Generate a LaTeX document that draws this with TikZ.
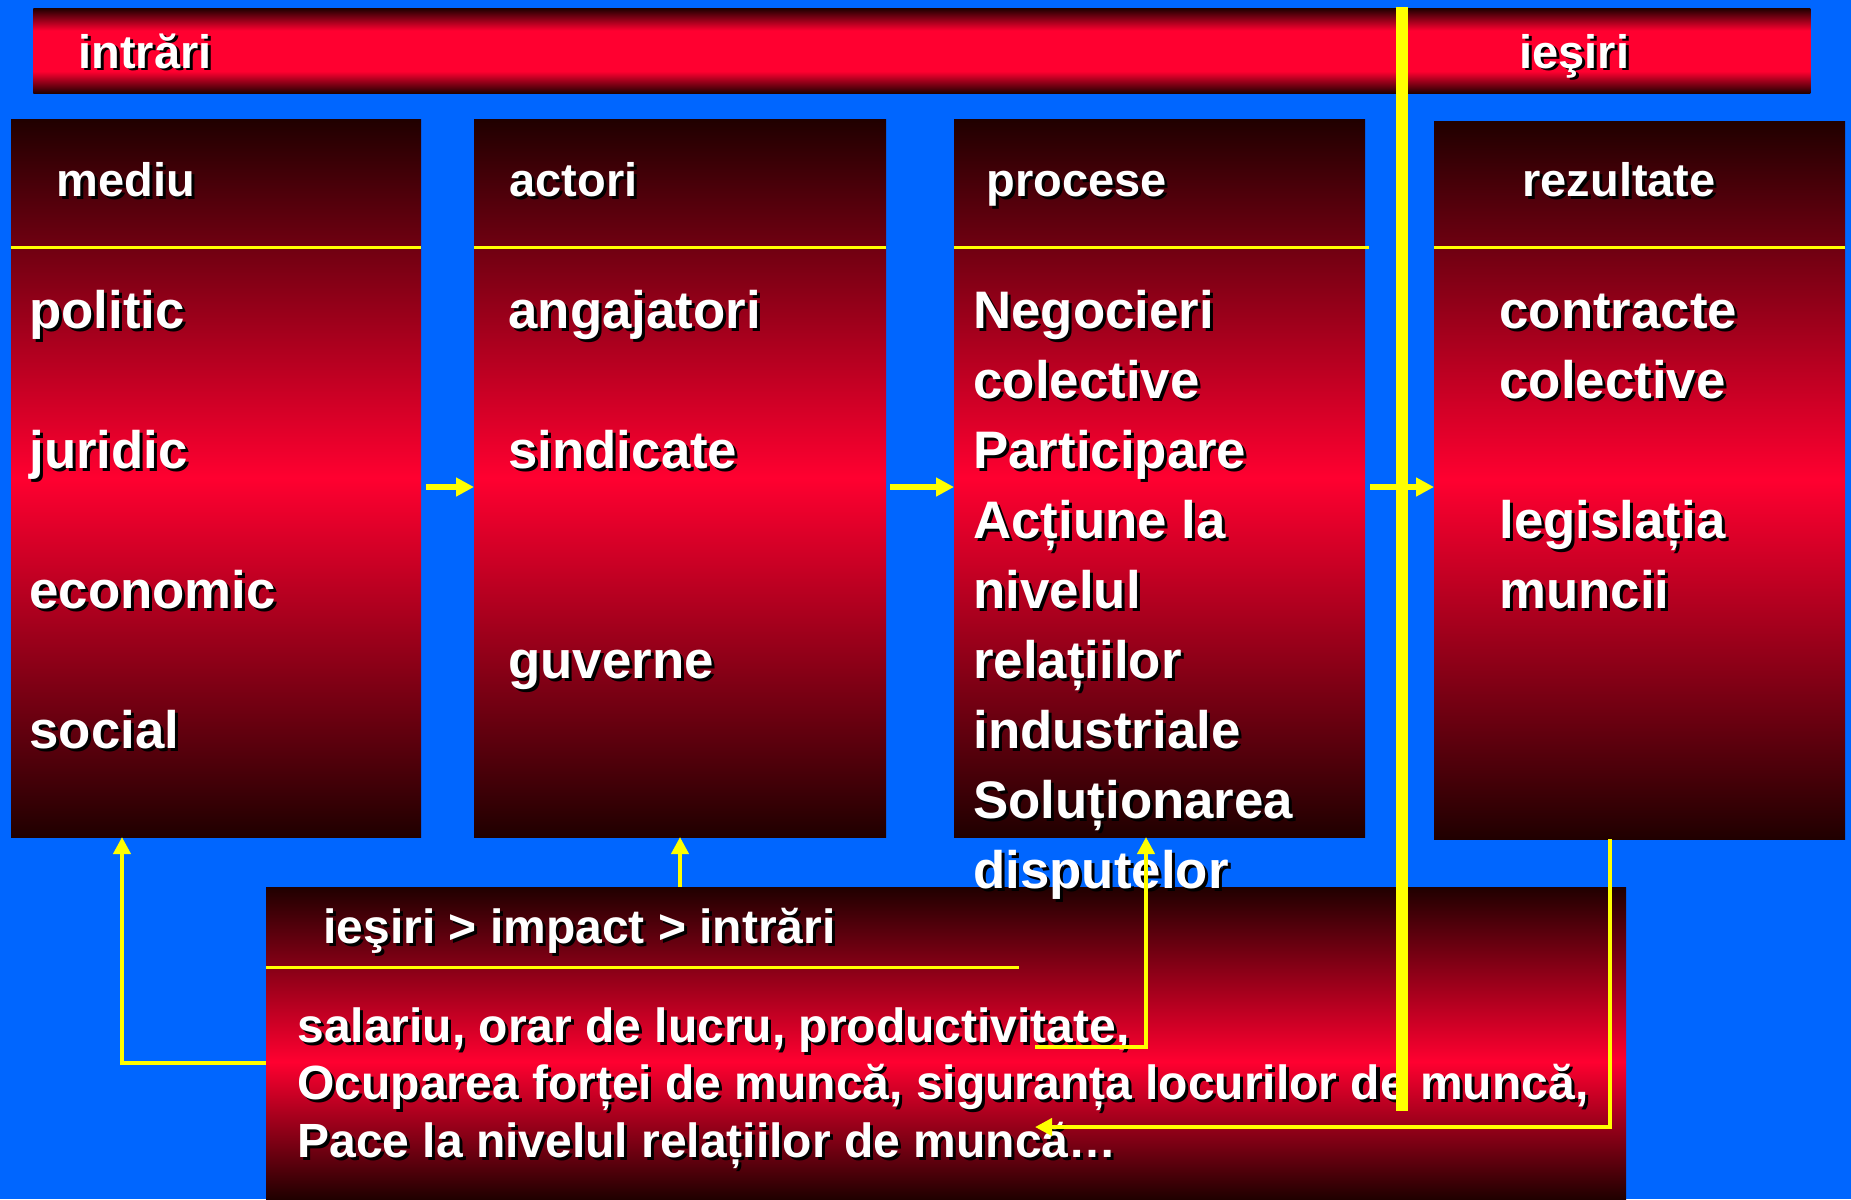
\documentclass[tikz,border=0pt]{standalone}
\usepackage{fontspec}
\setmainfont{Liberation Sans}
\usetikzlibrary{arrows.meta}

\definecolor{fundal}{HTML}{0066FF}
\definecolor{rosu}{HTML}{FF0030}
\definecolor{inchis}{HTML}{200000}
\definecolor{galben}{HTML}{FFFF00}

% Degradeuri
\pgfdeclareverticalshading{bara}{100bp}{color(0bp)=(inchis); color(25bp)=(inchis); color(38bp)=(rosu); color(62bp)=(rosu); color(75bp)=(inchis); color(100bp)=(inchis)}
\pgfdeclareverticalshading{cutiejos}{100bp}{color(0bp)=(inchis); color(25bp)=(inchis); color(47bp)=(rosu); color(75bp)=(inchis); color(100bp)=(inchis)}

\newcommand{\umbra}[1]{\makebox[0pt][l]{\hspace{1.5pt}\raisebox{-1.5pt}{\color{black}#1}}#1}
\newcommand{\randuri}[1]{\begin{tabular}[t]{@{}l@{}}#1\end{tabular}}

\tikzset{
  cutie/.style={inner sep=0pt, outer sep=0pt, anchor=north west, top color=inchis, bottom color=inchis, middle color=rosu},
  linie/.style={galben, line width=1.5pt},
  titlu/.style={white, anchor=base west, inner sep=0pt, font=\bfseries\fontsize{23.5}{28}\selectfont},
  continut/.style={white, anchor=base west, inner sep=0pt, font=\bfseries\fontsize{26.4}{35}\selectfont},
  sageata/.style={galben, line width=3pt, -{Triangle[length=9pt,width=9pt]}},
  retur/.style={galben, line width=2pt, -{Triangle[length=8.5pt,width=8.5pt]}},
}

\begin{document}
\begin{tikzpicture}[x=0.5pt, y=-0.5pt]
    % Fundal
    \fill[fundal] (0,0) rectangle (1851,1199);
    \useasboundingbox (0,0) rectangle (1851,1199);

    % Bara de sus
    \node[shade, shading=bara, inner sep=0pt, anchor=north west, minimum width=888.5pt, minimum height=42.5pt] (bara) at (33,8) {};
    \node[titlu] (tIn) at (78,68) {\umbra{intrări}};
    \node[titlu] (tIes) at (1519,68) {\umbra{ieşiri}};

    % Cutii
    \node[cutie, minimum width=205pt, minimum height=359pt] (mediu) at (11,119) {};
    \node[cutie, minimum width=206pt, minimum height=359pt] (actori) at (474,119) {};
    \node[cutie, minimum width=205.5pt, minimum height=359pt] (procese) at (954,119) {};
    \node[cutie, minimum width=205.5pt, minimum height=359pt] (rezultate) at (1434,121) {};
    \node[shade, shading=cutiejos, inner sep=0pt, outer sep=0pt, anchor=north west, minimum width=680pt, minimum height=156pt] (impact) at (266,887) {};

    % Linii sub titluri
    \coordinate (lin) at (0,247);
    \coordinate (lin2) at (1019,967);
    \draw[linie] (mediu.west |- lin) -- (mediu.east |- lin);
    \draw[linie] (actori.west |- lin) -- (actori.east |- lin);
    \draw[linie] (procese.west |- lin) -- ([xshift=2pt]procese.east |- lin);
    \draw[linie] (rezultate.west |- lin) -- (rezultate.east |- lin);
    \draw[linie] (impact.west |- lin2) -- (lin2);

    % Titluri
    \node[titlu] (tMediu) at (56,196) {\umbra{mediu}};
    \node[titlu] (tActori) at (509,196) {\umbra{actori}};
    \node[titlu] (tProcese) at (986,196) {\umbra{procese}};
    \node[titlu] (tRezultate) at (1522,196) {\umbra{rezultate}};
    \node[titlu, font=\bfseries\fontsize{24}{28.75}\selectfont] (tImpact) at (323,943) {\umbra{ieşiri > impact > intrări}};

    % Continut
    \node[continut] (cMediu) at (29,328) {\randuri{\umbra{politic}\\[35pt]\umbra{juridic}\\[35pt]\umbra{economic}\\[35pt]\umbra{social}}};
    \node[continut] (cActori) at (508,328) {\randuri{\umbra{angajatori}\\[35pt]\umbra{sindicate}\\[70pt]\umbra{guverne}}};
    \node[continut] (cProcese) at (973,328) {\randuri{\umbra{Negocieri}\\\umbra{colective}\\\umbra{Participare}\\\umbra{Acțiune la}\\\umbra{nivelul}\\\umbra{relațiilor}\\\umbra{industriale}\\\umbra{Soluționarea}\\\umbra{disputelor}}};
    \node[continut] (cRezultate) at (1499,328) {\randuri{\umbra{contracte}\\\umbra{colective}\\[35pt]\umbra{legislația}\\\umbra{muncii}}};
    \node[continut, font=\bfseries\fontsize{24}{28.75}\selectfont] (cImpact) at (297,1042) {\randuri{\umbra{salariu, orar de lucru, productivitate,}\\\umbra{Ocuparea forței de muncă, siguranța locurilor de muncă,}\\\umbra{Pace la nivelul relațiilor de muncă…}}};

    % Sageti intre cutii
    \draw[sageata] ([shift={(2.5pt,-4.5pt)}]mediu.east) -- ([yshift=-4.5pt]actori.west);
    \draw[sageata] ([shift={(2pt,-4.5pt)}]actori.east) -- ([yshift=-4.5pt]procese.west);
    \draw[sageata] ([shift={(2.5pt,-4.5pt)}]procese.east) -- ([yshift=-3.5pt]rezultate.west);

    % Bucle de retur
    \coordinate (c1) at (122,1063);
    \coordinate (c2) at (1035,1047);
    \coordinate (c3) at (1146,1047);
    \coordinate (c4) at (1610,1127);
    \coordinate (c5) at (1035,1127);
    \draw[retur] (impact.west |- c1) -- (c1) -- (c1 |- mediu.south);
    \draw[retur] (impact.north -| actori.south) -- (actori.south);
    \draw[retur] (c2) -- (c3) -- (c3 |- procese.south);
    \draw[retur] (c4 |- rezultate.south) -- (c4) -- (c5);

    % Linia verticala
    \coordinate (sus) at (1402,7);
    \coordinate (jos) at (1402,1111);
    \draw[galben, line width=6pt] (sus) -- (jos);
\end{tikzpicture}
\end{document}
